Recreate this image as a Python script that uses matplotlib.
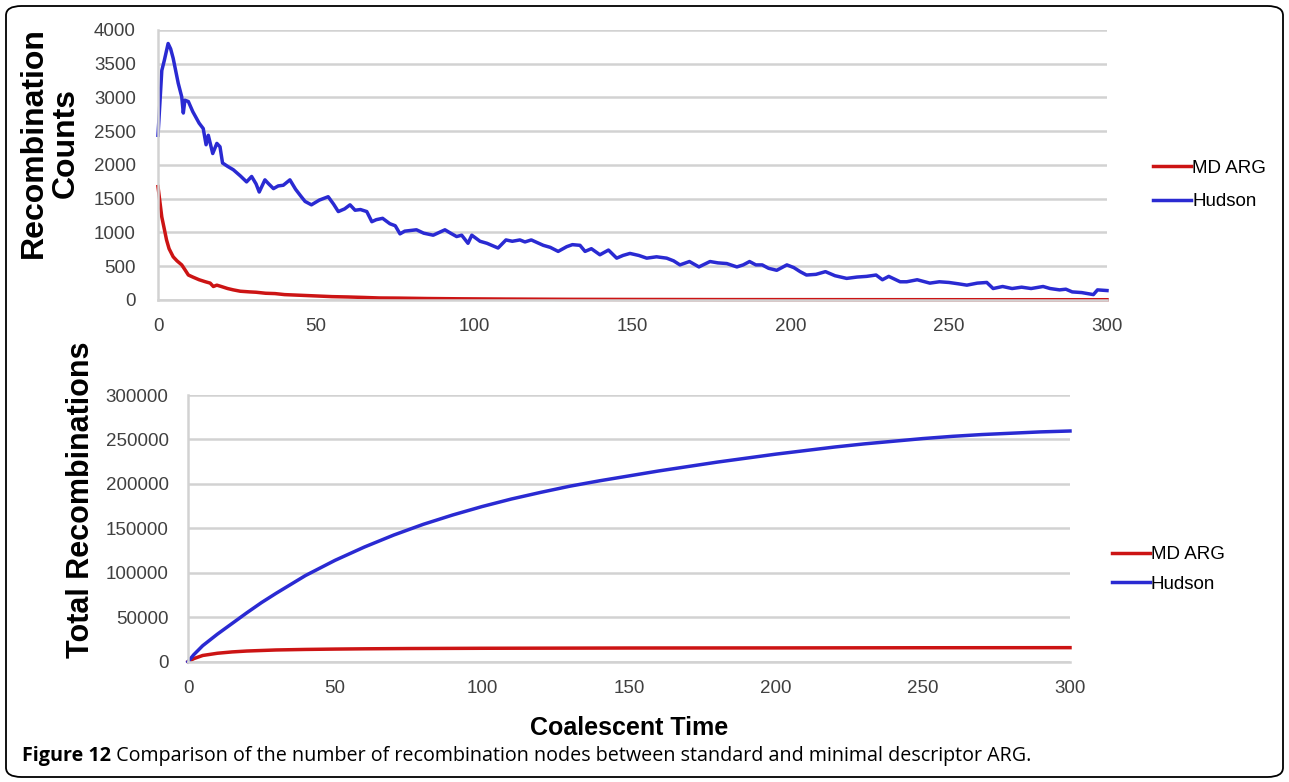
import numpy as np
import matplotlib
matplotlib.use('Agg')
from matplotlib import pyplot as plt
from matplotlib.patches import FancyBboxPatch

plt.rcParams['font.family'] = ['Liberation Sans', 'DejaVu Sans']

# Top panel: recombination counts per coalescent time step
hud_t = [0, 1.2, 2, 3.2, 4, 4.8, 5.5, 6.4, 7.5, 8, 8.5, 9.6, 11, 13, 14.3, 15.2, 15.9,
         17.3, 18.6, 19.6, 20.4, 22, 23.8, 26, 28, 29.6, 31, 32, 33.8, 35, 36.5, 38,
         39.6, 41.7, 43.5, 45.3, 46.5, 48.5, 51, 53.8, 55.5, 57, 59, 60.7, 62.3, 64,
         66, 67.6, 69, 71, 73.3, 75, 76.5, 78, 81.7, 84, 87, 90.7, 92.5, 94.4, 96, 98,
         99.2, 101.8, 104, 107.5, 110, 112, 114.4, 116, 118, 121.8, 124, 126.5, 129.2,
         131, 133.4, 135, 137, 139.7, 142.4, 145, 147, 149.2, 152, 154.5, 157.6, 160.8,
         163, 165, 168, 171, 174.5, 177, 179.8, 183, 185, 187, 189, 191, 193, 195.6,
         198.8, 201, 203, 205, 208, 211, 214, 217.7, 221, 224, 227, 229, 231, 234.6,
         236.7, 240, 244, 247, 250, 253, 255.7, 259, 262, 264, 267, 270, 273, 276,
         279.8, 282, 285, 287, 289, 292, 295.7, 297, 300]
hud_counts = [2440, 3400, 3550, 3800, 3720, 3580, 3420, 3210, 3010, 2770, 2960, 2940,
              2790, 2620, 2540, 2300, 2440, 2170, 2320, 2270, 2030, 1980, 1930, 1840,
              1750, 1830, 1720, 1600, 1780, 1720, 1650, 1690, 1700, 1780, 1640, 1530,
              1460, 1410, 1480, 1530, 1420, 1310, 1350, 1410, 1330, 1340, 1310, 1160,
              1190, 1210, 1130, 1100, 980, 1020, 1040, 990, 960, 1040, 990, 940, 960,
              840, 960, 870, 840, 770, 890, 870, 890, 860, 890, 810, 780, 720, 790, 820,
              810, 720, 760, 670, 740, 620, 660, 690, 660, 620, 640, 620, 580, 520, 570,
              490, 570, 550, 540, 490, 520, 570, 520, 520, 470, 440, 520, 480, 420, 370,
              380, 420, 360, 320, 340, 350, 370, 300, 350, 270, 270, 300, 250, 270, 260,
              240, 220, 250, 260, 170, 200, 170, 190, 170, 200, 170, 150, 160, 120, 110,
              80, 150, 140]

md_t = [0, 1.2, 2, 2.7, 3.5, 4.8, 6, 7.5, 8.5, 9.6, 11, 13, 15, 16.5, 17.5, 18.6, 20,
        22, 23.8, 26, 29, 31, 34, 37, 40, 45, 50, 55, 60, 65, 70, 76, 85, 95, 110, 130,
        150, 180, 220, 260, 300]
md_counts = [1680, 1230, 1050, 890, 760, 640, 580, 520, 450, 370, 340, 300, 270, 250,
             200, 220, 200, 170, 150, 130, 120, 115, 100, 95, 80, 70, 60, 50, 45, 38, 30,
             28, 22, 18, 14, 10, 8, 6, 5, 4, 4]

# Bottom panel: cumulative recombinations
hud_cum_t = [0, 2, 5, 10, 15, 20, 25, 30, 40, 50, 60, 70, 80, 90, 100, 110, 120, 130,
             140, 150, 160, 170, 180, 190, 200, 210, 220, 230, 240, 250, 260, 270, 280,
             290, 300]
hud_total = [0, 8000, 18000, 31000, 43000, 55000, 66500, 77000, 97000, 114000, 129000,
             142500, 154500, 165000, 174500, 183000, 190500, 197500, 203500, 209000,
             214500, 219500, 224500, 229000, 233500, 237500, 241500, 245000, 248000,
             251000, 253500, 255500, 257000, 258500, 259500]

md_cum_t = [0, 2, 5, 10, 15, 20, 30, 40, 50, 60, 75, 100, 150, 200, 250, 300]
md_total = [0, 3500, 7000, 9500, 11000, 12000, 13200, 13800, 14200, 14500, 14800, 15100,
            15400, 15500, 15700, 15800]

series_names = ['MD ARG', 'Hudson']
red = '#cc1414'
blue = '#2a2ad2'
grid_c = '#d2d2d2'
tick_c = '#404040'

W, H = 1289, 782
fig = plt.figure(figsize=(W / 100, H / 100), dpi=100)


def fx(px):
    return px / W


def fy(py):
    return 1 - py / H


def style(ax, ymax, ystep, ypad):
    ax.set_xlim(0, 300)
    ax.set_ylim(0, ymax)
    ax.set_xticks(np.arange(0, 301, 50))
    ax.set_yticks(np.arange(0, ymax + 1, ystep))
    ax.yaxis.grid(True, color=grid_c, linewidth=1.8)
    ax.set_axisbelow(True)
    for s in ['top', 'right']:
        ax.spines[s].set_visible(False)
    for s in ['left', 'bottom']:
        ax.spines[s].set_color(grid_c)
        ax.spines[s].set_linewidth(1.8)
    ax.tick_params(length=0, labelsize=13.5, labelcolor=tick_c)
    ax.tick_params(axis='y', pad=ypad)
    ax.tick_params(axis='x', pad=13)


ax1 = fig.add_axes([fx(158), fy(300), fx(1107 - 158), (300 - 30) / H])
style(ax1, 4000, 500, 16)
ax1.plot(md_t, md_counts, color=red, lw=2.5, label=series_names[0], clip_on=False)
ax1.plot(hud_t, hud_counts, color=blue, lw=2.5, label=series_names[1], clip_on=False)
ax1.set_ylabel('Recombination\nCounts', fontsize=23, fontweight='bold', linespacing=1.1)
ax1.yaxis.set_label_coords(-0.081, 0.583)
ax1.legend(loc='center left', bbox_to_anchor=(fx(1153), fy(185)),
           bbox_transform=fig.transFigure, frameon=False, fontsize=13.5, borderpad=0,
           borderaxespad=0, handlelength=2.0, handletextpad=0.08, labelspacing=0.85)

ax2 = fig.add_axes([fx(188), fy(661.7), fx(1070 - 188), (661.7 - 395) / H])
style(ax2, 300000, 50000, 14)
ax2.plot(md_cum_t, md_total, color=red, lw=2.5, label=series_names[0], clip_on=False)
ax2.plot(hud_cum_t, hud_total, color=blue, lw=2.5, label=series_names[1], clip_on=False)
ax2.set_ylabel('Total Recombinations', fontsize=22, fontweight='bold')
ax2.yaxis.set_label_coords(-0.104, 0.606)
ax2.set_xlabel('Coalescent Time', fontsize=18, fontweight='bold', labelpad=14)
ax2.legend(loc='center left', bbox_to_anchor=(fx(1112), fy(569.5)),
           bbox_transform=fig.transFigure, frameon=False, fontsize=13.5, borderpad=0,
           borderaxespad=0, handlelength=2.0, handletextpad=0.08, labelspacing=0.65)

# rounded frame round the whole figure
frame = FancyBboxPatch((fx(6), fy(777)), fx(1283 - 6), (777 - 6) / H,
                       boxstyle='round,pad=0,rounding_size=0.012',
                       transform=fig.transFigure, fill=False, edgecolor='black',
                       linewidth=1.3)
fig.patches.append(frame)

cap = fig.text(fx(22), fy(756), 'Figure 12', fontsize=14.2, fontweight='bold',
               family=['Open Sans', 'DejaVu Sans'], va='center', ha='left')
ax2.annotate(' Comparison of the number of recombination nodes between standard and '
             'minimal descriptor ARG.', xy=(1, 0.5), xycoords=cap, va='center',
             ha='left', fontsize=14.2, family=['Open Sans', 'DejaVu Sans'],
             annotation_clip=False)

fig.savefig('out.png', dpi=100)
